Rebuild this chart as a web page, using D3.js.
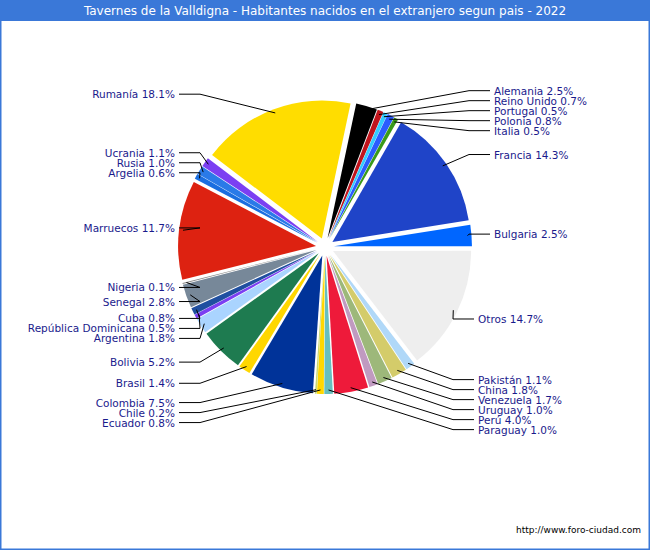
<!DOCTYPE html>
<html><head><meta charset="utf-8">
<script src="https://cdn.jsdelivr.net/npm/d3@7"></script>
<style>body{margin:0;background:#fff}svg{display:block}</style></head>
<body><svg id="c" width="650" height="550"></svg>
<script>
const countries = ["Alemania","Reino Unido","Portugal","Polonia","Italia","Francia","Bulgaria","Otros","Pakistán","China","Venezuela","Uruguay","Perú","Paraguay","Ecuador","Chile","Colombia","Brasil","Bolivia","Argentina","República Dominicana","Cuba","Senegal","Nigeria","Marruecos","Argelia","Rusia","Ucrania","Rumanía"];
const percents = [2.5,0.7,0.5,0.8,0.5,14.3,2.5,14.7,1.1,1.8,1.7,1.0,4.0,1.0,0.8,0.2,7.5,1.4,5.2,1.8,0.5,0.8,2.8,0.1,11.7,0.6,1.0,1.1,18.1];
const colors = ["#000000","#c0141c","#33ccff","#2a5cff","#3a9a1a","#1f44c8","#0066ff","#eeeeee","#b0d8f8","#d4cc6a","#9db87a","#c09ac0","#ee1a3a","#66bfbf","#ffd700","#c8d870","#003399","#ffd700","#1e7b50","#aad4ff","#7b3ff2","#1f4fa0","#778899","#888888","#dd2211","#1a6ee0","#2a7ae8","#7b3ff2","#ffdd00"];
const title = "Tavernes de la Valldigna - Habitantes nacidos en el extranjero segun pais - 2022";

const svg = d3.select("#c");
svg.append("rect").attr("x",0.5).attr("y",0.5).attr("width",649).attr("height",549).attr("fill","#fff").attr("stroke","#3a78d8").attr("stroke-width",2);
svg.append("rect").attr("x",0).attr("y",0).attr("width",650).attr("height",21).attr("fill","#3a78d8");
svg.append("text").attr("x",325).attr("y",15).attr("text-anchor","middle").attr("fill","#fff")
  .attr("font-family","DejaVu Sans").attr("font-size",12).text(title);
svg.append("text").attr("x",641).attr("y",533).attr("text-anchor","end").attr("fill","#000")
  .attr("font-family","DejaVu Sans").attr("font-size",9).text("http://www.foro-ciudad.com");

const cx=325, cy=247, R=138, ex=9;
const data = countries.map((c,i)=>({name:c,v:percents[i],col:colors[i]}));
const off = 12*Math.PI/180;
const pie = d3.pie().sort(null).value(d=>d.v).startAngle(off).endAngle(off+2*Math.PI);
const arcs = pie(data);
const arc = d3.arc().innerRadius(0).outerRadius(R);
const g = svg.append("g").attr("transform",`translate(${cx},${cy})`);
arcs.forEach(a=>{
  const m=(a.startAngle+a.endAngle)/2;
  a.mid=m; a.dx=Math.sin(m)*ex; a.dy=-Math.cos(m)*ex;
  g.append("path").attr("d",arc(a)).attr("fill",a.data.col)
    .attr("transform",`translate(${a.dx},${a.dy})`);
});
const right=arcs.filter(a=>a.mid%(2*Math.PI)<Math.PI), left=arcs.filter(a=>a.mid%(2*Math.PI)>=Math.PI);
function place(list, sp){
  list.forEach(a=>{a.ly=cy-Math.cos(a.mid)*(R+25);});
  list.sort((a,b)=>a.ly-b.ly);
  for(let k=0;k<3;k++){
    for(let i=1;i<list.length;i++) if(list[i].ly-list[i-1].ly<sp) list[i].ly=list[i-1].ly+sp;
    for(let i=list.length-2;i>=0;i--) if(list[i+1].ly-list[i].ly<sp) list[i].ly=list[i+1].ly-sp;
  }
}
place(right,10); place(left,10);
const font="DejaVu Sans";
function draw(a, isRight){
  const px=cx+a.dx+Math.sin(a.mid)*(R-4), py=cy+a.dy-Math.cos(a.mid)*(R-4);
  const tx=isRight?(a.ly>290?478:494):175;
  const bx=isRight?tx-25:tx+25;
  svg.append("polyline").attr("points",`${px},${py} ${bx},${a.ly} ${isRight?tx-4:tx+4},${a.ly}`)
    .attr("fill","none").attr("stroke","#000").attr("stroke-width",1);
  svg.append("text").attr("x",tx).attr("y",a.ly+4).attr("text-anchor",isRight?"start":"end")
    .attr("fill","#1a1a8c").attr("font-family",font).attr("font-size",10.5)
    .text(`${a.data.name} ${a.data.v.toFixed(1)}%`);
}
right.forEach(a=>draw(a,true)); left.forEach(a=>draw(a,false));
</script></body></html>
